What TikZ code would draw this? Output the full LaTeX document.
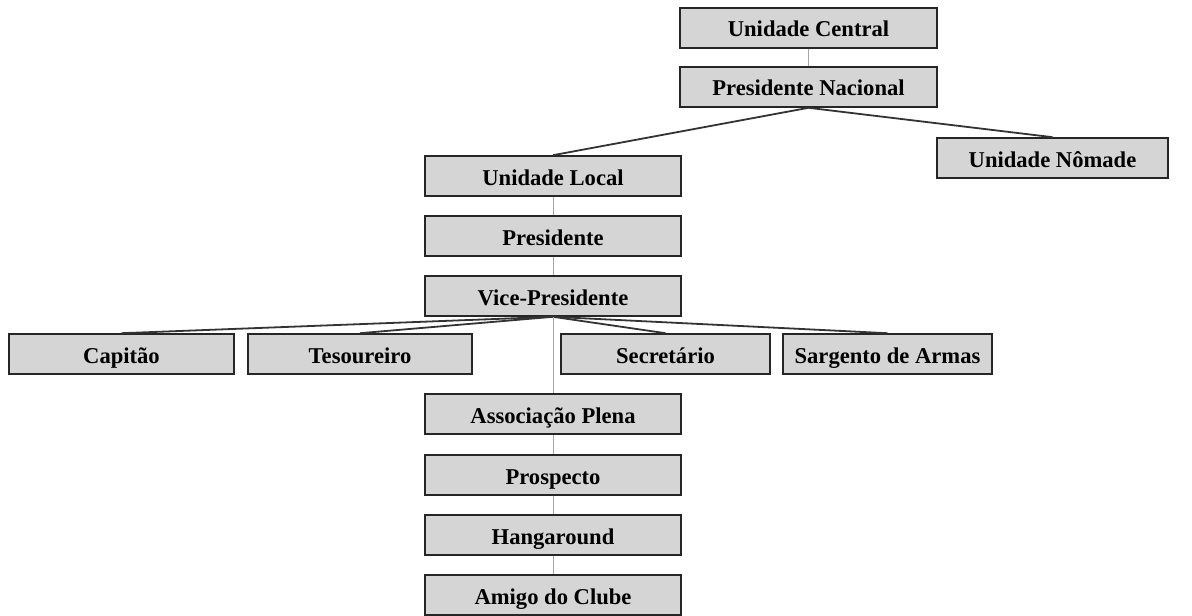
\documentclass[tikz,border=0pt]{standalone}
\usepackage{fontspec}
\setmainfont{Liberation Serif}
\begin{document}
\begin{tikzpicture}[x=0.5pt,y=-0.5pt,
  box/.style={draw=black!85, line width=0.8pt, fill=gray!33, rectangle, inner sep=0pt,
    minimum height=20pt, text height=9pt, text depth=0pt,
    font=\fontsize{11.3}{13}\selectfont\bfseries},
  thin/.style={draw=gray!70, line width=0.5pt},
  thick/.style={draw=black!80, line width=0.9pt}]
\useasboundingbox (0,0) rectangle (1192,615);
\node[box, minimum width=128.5pt] (uc) at (808.5,28) {Unidade Central};
\node[box, minimum width=128.5pt] (pn) at (808.5,87) {Presidente Nacional};
\node[box, minimum width=115.5pt] (un) at (1052.5,158) {Unidade Nômade};
\node[box, minimum width=128pt] (ul) at (553,176) {Unidade Local};
\node[box, minimum width=128pt] (pr) at (553,236) {Presidente};
\node[box, minimum width=128pt] (vp) at (553,296) {Vice-Presidente};
\node[box, minimum width=112.5pt] (cap) at (121.5,354) {Capitão};
\node[box, minimum width=112pt] (tes) at (360,354) {Tesoureiro};
\node[box, minimum width=104.5pt] (sec) at (665.5,354) {Secretário};
\node[box, minimum width=104.5pt] (sar) at (887.5,354) {Sargento de Armas};
\node[box, minimum width=128pt] (ap) at (553,414) {Associação Plena};
\node[box, minimum width=128pt] (pros) at (553,475) {Prospecto};
\node[box, minimum width=128pt] (hg) at (553,535) {Hangaround};
\node[box, minimum width=128pt] (am) at (553,595) {Amigo do Clube};
\draw[thin] (uc.south) -- (pn.north);
\draw[thick] (pn.south) -- (ul.north);
\draw[thick] (pn.south) -- (un.north);
\draw[thin] (ul.south) -- (pr.north);
\draw[thin] (pr.south) -- (vp.north);
\draw[thick] (vp.south) -- (cap.north);
\draw[thick] (vp.south) -- (tes.north);
\draw[thick] (vp.south) -- (sec.north);
\draw[thick] (vp.south) -- (sar.north);
\draw[thin] (vp.south) -- (ap.north);
\draw[thin] (ap.south) -- (pros.north);
\draw[thin] (pros.south) -- (hg.north);
\draw[thin] (hg.south) -- (am.north);
\end{tikzpicture}
\end{document}
